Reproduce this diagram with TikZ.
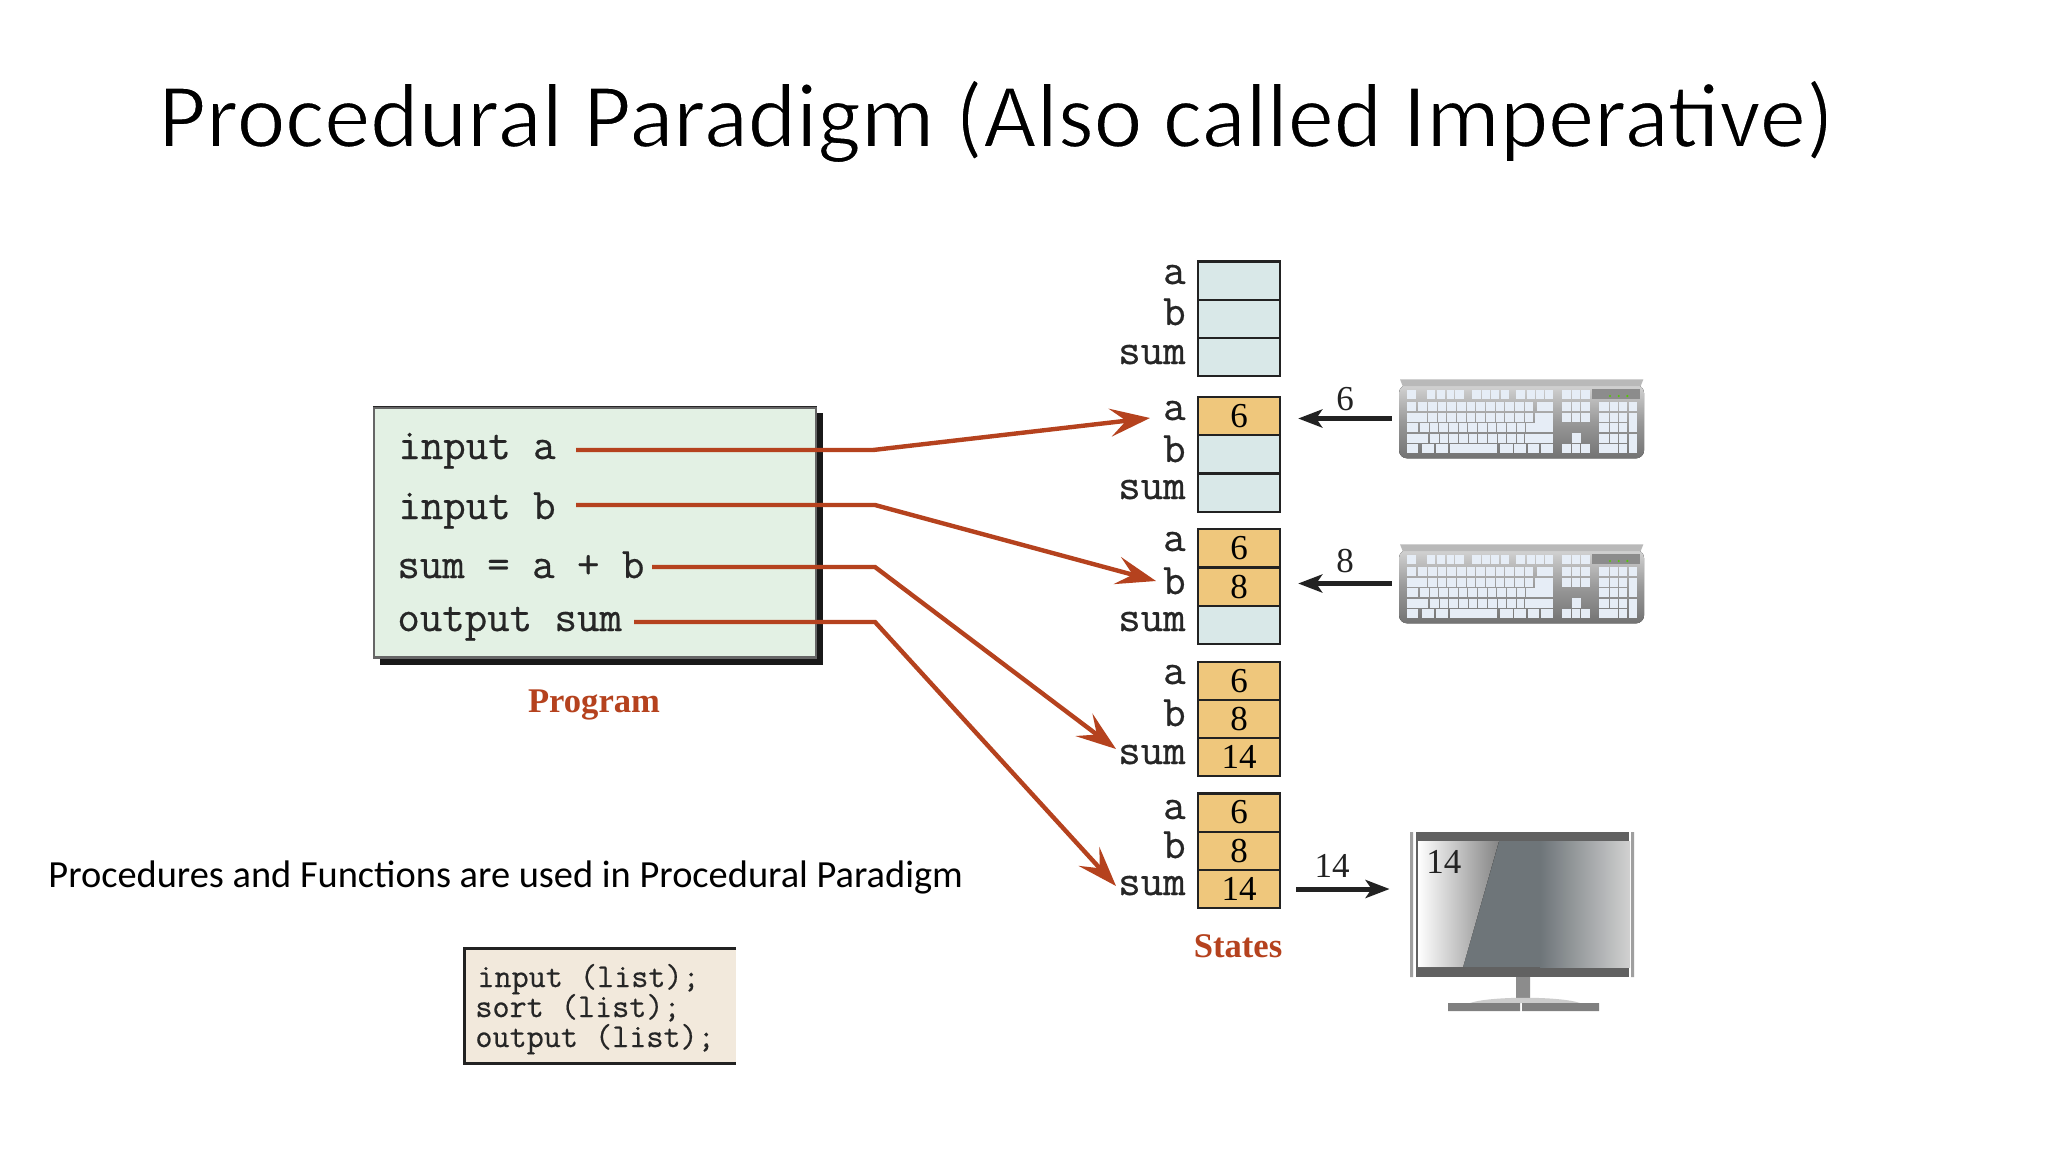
\documentclass[tikz,border=0pt]{standalone}
\usepackage{fontspec}
\usetikzlibrary{arrows.meta}
\setmainfont{Carlito}
\newfontfamily\tnr{Liberation Serif}
\newfontfamily\monob[FakeBold=0.5]{Latin Modern Mono}
\definecolor{rust}{HTML}{B5421E}
\definecolor{proggreen}{HTML}{E3F1E4}
\definecolor{emptycell}{HTML}{D9E8E8}
\definecolor{fullcell}{HTML}{EFC77C}
\definecolor{codebg}{HTML}{F2E9DC}
\definecolor{keycol}{HTML}{E6EDF6}
\definecolor{ink}{HTML}{222222}
\definecolor{screen}{HTML}{6E7579}
\newcommand{\kr}[3]{\foreach \p/\q in {#3}{\fill[keycol] (\p,#1) rectangle (\q,#2);}}
\newcommand{\krs}[4]{\foreach \p in {#3}{\fill[keycol] (\p,#1) rectangle (\p+#4,#2);}}
\tikzset{
  x=0.5pt,y=-0.5pt,
  title/.style={anchor=base west,inner sep=0,font=\fontsize{46.1}{50}\selectfont},
  note/.style={anchor=base west,inner sep=0,font=\fontsize{19.2}{22}\selectfont},
  code/.style={anchor=base west,inner sep=0,font=\monob\fontsize{21.8}{24}\selectfont,text=black!85},
  smallcode/.style={anchor=base west,inner sep=0,font=\monob\fontsize{16.6}{18}\selectfont,text=black!85},
  varname/.style={anchor=base east,inner sep=0,font=\monob\fontsize{21.8}{24}\selectfont,text=black!85},
  cell/.style={draw=ink,line width=1.2pt,minimum width=41pt,minimum height=19.2pt,inner sep=0,font=\tnr\fontsize{17.5}{20}\selectfont},
  redlabel/.style={anchor=base,inner sep=0,text=rust,font=\tnr\bfseries\fontsize{17.3}{20}\selectfont},
  digit/.style={anchor=base,inner sep=0,font=\tnr\fontsize{17.5}{20}\selectfont,text=ink},
  redarrow/.style={draw=rust,line width=2.2pt,-{Stealth[length=20pt,width=14pt,inset=8pt]}},
  blackarrow/.style={draw=ink,line width=2.5pt,-{Stealth[length=12pt,width=9pt,inset=3pt]}},
  kbd/.pic={
    \fill[rounded corners=4pt,top color=gray!35,bottom color=black!55,middle color=gray!80] (57,45) rectangle (792,265);
    \fill[gray!55] (60,28) -- (790,28) -- (782,48) -- (68,48) -- cycle;
    \fill[black!45] (635,58) rectangle (780,88);
    \foreach \g in {690,716,742}{\fill[green!60!yellow!80!black] (\g,78) circle (3.5);}
    \kr{60}{88}{80/108,140/166,170/196,200/222,226/252,275/302,306/330,334/358,362/388,408/436,440/464,468/492,496/520,545/572,576/600,604/630}
    \kr{95}{122}{80/108,470/520,545/572,576/600,604/630,658/686,690/714,718/742,746/770}
    \krs{95}{122}{115,144,...,434}{26}
    \kr{128}{155}{80/140,545/572,576/600,604/630,658/686,690/714,718/742}
    \krs{128}{155}{144,173,...,434}{26}
    \kr{128}{185}{466/520,746/770}
    \kr{160}{187}{80/115,658/686,690/714,718/742}
    \krs{160}{187}{120,149,...,439}{26}
    \kr{192}{220}{80/145,410/432,436/520,658/686,690/714,718/742}
    \krs{192}{220}{150,179,...,382}{26}
    \kr{190}{218}{576/602}
    \kr{222}{250}{80/115,125/162,168/203,210/352,360/398,403/438,443/478,483/520,545/572,576/600,604/630,658/714,718/742}
    \kr{192}{250}{746/770}
  }
}
\begin{document}
\begin{tikzpicture}
\useasboundingbox (0,0) rectangle (2048,1152);
\fill[white] (0,0) rectangle (2048,1152);
\node[title] (ttl) at (158,147) {\special{pdf:code q 2 Tr 0.8 w 1 1 1 RG}Procedural Paradigm (Also called Imperative)\special{pdf:code Q}};
\node[note] (nte) at (48,887) {Procedures and Functions are used in Procedural Paradigm};

% program box
\fill[black!90] (380,413) rectangle (823,665);
\node[draw=gray!80!black,fill=proggreen,line width=1.2pt,minimum width=221pt,minimum height=125pt,inner sep=0] (prog) at (595,532.5) {};
\draw[black!85,line width=0.8pt] (prog.north west) -- (prog.north east);
\node[code] (pa) at (398,459) {input a};
\node[code] (pb) at (398,519) {input b};
\node[code] (ps) at (397,578) {sum = a + b};
\node[code] (po) at (397,631) {output sum};
\node[redlabel] (plab) at (594,712) {Program};

% memory states
\foreach \n/\y/\c/\v in {
  1a/280.5/emptycell/,1b/319/emptycell/,1s/357/emptycell/,
  2a/416/fullcell/6,2b/454/emptycell/,2s/492.5/emptycell/,
  3a/548/fullcell/6,3b/587/fullcell/8,3s/625/emptycell/,
  4a/681/fullcell/6,4b/719/fullcell/8,4s/757/fullcell/14,
  5a/812.5/fullcell/6,5b/851/fullcell/8,5s/889/fullcell/14}{
  \node[cell,fill=\c] (s\n) at (1239,\y) {\v};
}
\foreach \n/\t/\y in {
  1a/a/284,1b/b/325,1s/sum/364,
  2a/a/420,2b/b/462,2s/sum/499,
  3a/a/551,3b/b/594,3s/sum/631,
  4a/a/684,4b/b/726,4s/sum/764,
  5a/a/819,5b/b/858,5s/sum/895}{
  \node[varname] (l\n) at (1186,\y) {\t};
}
\node[redlabel] (slab) at (1238,957) {States};

% red connectors
\foreach \n/\a/\b/\bx/\c in {1/576/450/873/{1150,418},2/576/505/875/{1156,581},3/652/567/875/{1116,749},4/634/622/875/{1116,886}}{
  \coordinate (from\n) at (\a,\b);
  \coordinate (bend\n) at (\bx,\b);
  \coordinate (tip\n) at (\c);
}
\foreach \n in {1,2,3,4}{\draw[redarrow] (from\n) -- (bend\n) -- (tip\n);}

% keyboards
\node[inner sep=0,minimum width=122.5pt,minimum height=39.5pt] (kb1) at (1521.5,418.5) {};
\node[inner sep=0,minimum width=122.5pt,minimum height=39.5pt] (kb2) at (1521.5,583.5) {};
\begin{scope}[shift={(1380,370)},x=0.16667pt,y=-0.16667pt]
  \pic {kbd};
\end{scope}
\begin{scope}[shift={(1380,535)},x=0.16667pt,y=-0.16667pt]
  \pic {kbd};
\end{scope}
\draw[blackarrow,shorten <=3.5pt,shorten >=8.5pt] (kb1.west) -- (kb1.west -| s2a.east);
\draw[blackarrow,shorten <=3.5pt,shorten >=8.5pt] (kb2.west) -- (kb2.west -| s3b.east);
\node[digit] (d6) at (1345,410) {6};
\node[digit] (d8) at (1345,572) {8};

% monitor
\node[inner sep=0,minimum width=112pt,minimum height=72.5pt] (mon) at (1522,904.5) {};
\fill[gray!75] (1410,832) rectangle (1413,977) (1631,832) rectangle (1634,977);
\fill[black!62] (1416,832) rectangle (1629,977);
\fill[screen] (1418,841) rectangle (1630,967);
\fill[left color=screen,right color=black!18] (1540,841) rectangle (1630,967);
\fill[left color=white,right color=black!48] (1418,841) -- (1499,841) -- (1463,967) -- (1418,967) -- cycle;
\fill[left color=gray!90,middle color=white,right color=gray!90] (1516,977) rectangle (1530,1000);
\fill[black!20] (1470,1003) .. controls (1490,996) and (1560,996) .. (1580,1003) -- cycle;
\fill[black!50] (1448,1003) rectangle (1520,1011) (1522,1003) rectangle (1599,1011);
\node[digit,anchor=base west] (d14m) at (1426,873) {14};
\draw[blackarrow,shorten <=7.5pt,shorten >=10pt] (s5s.east) -- (s5s.east -| mon.west);
\node[digit] (d14) at (1332,877) {14};

% small code box
\fill[codebg] (463,947) rectangle (736,1063);
\draw[ink,line width=1.5pt] (736,948) -- (464,948) -- (464,1063) -- (736,1063);
\node[smallcode] (c1) at (477,987) {input (list);};
\node[smallcode] (c2) at (475,1017) {sort (list);};
\node[smallcode] (c3) at (475,1047) {output (list);};
\end{tikzpicture}
\end{document}
